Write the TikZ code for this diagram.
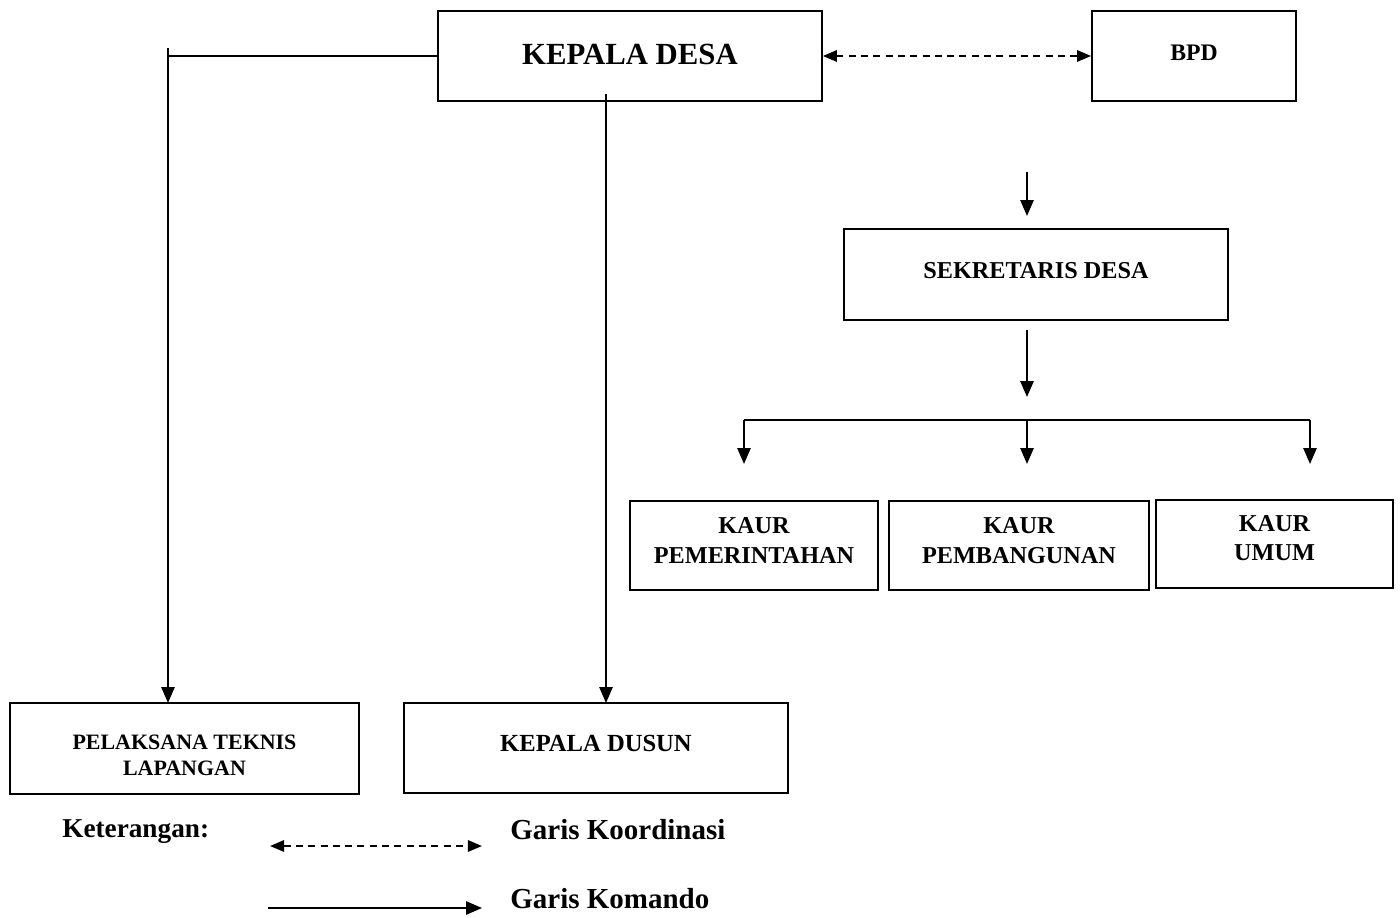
\documentclass[tikz,border=0pt]{standalone}
\usepackage{fontspec}
\setmainfont{Liberation Serif}
\usetikzlibrary{arrows.meta}
\tikzset{
  box/.style={draw, line width=1pt, inner sep=0pt},
  boxtext/.style={align=center, inner sep=0pt},
  cmd/.style={line width=1pt, -{Triangle[length=9pt,width=7.5pt]}},
  plain/.style={line width=1pt},
  coord/.style={line width=1pt, dashed, dash pattern=on 4pt off 3pt, {Triangle[length=8pt,width=6.5pt]}-{Triangle[length=8pt,width=6.5pt]}},
  lbl/.style={anchor=west, inner sep=0pt, font=\bfseries\fontsize{16.5pt}{19pt}\selectfont}
}
\begin{document}
\begin{tikzpicture}[x=0.02cm, y=-0.02cm]
\useasboundingbox (0,0) rectangle (1400,918);
% boxes
\node[box, minimum width=7.68cm, minimum height=1.8cm,
  label={[boxtext, yshift=0.6pt, font=\bfseries\fontsize{17.5pt}{20pt}\selectfont]center:KEPALA DESA}] (kd) at (630,56) {};
\node[box, minimum width=4.08cm, minimum height=1.8cm,
  label={[boxtext, yshift=1.7pt, font=\bfseries\fontsize{13.5pt}{16pt}\selectfont]center:BPD}] (bpd) at (1194,56) {};
\node[box, minimum width=7.68cm, minimum height=1.82cm,
  label={[boxtext, yshift=2.3pt, font=\bfseries\fontsize{13.8pt}{16pt}\selectfont]center:SEKRETARIS DESA}] (sek) at (1036,274.5) {};
\node[box, minimum width=4.96cm, minimum height=1.78cm,
  label={[boxtext, yshift=2.8pt, font=\bfseries\fontsize{13.8pt}{17pt}\selectfont]center:KAUR\\PEMERINTAHAN}] (k1) at (754,545.5) {};
\node[box, minimum width=5.2cm, minimum height=1.78cm,
  label={[boxtext, yshift=2.8pt, font=\bfseries\fontsize{13.8pt}{17pt}\selectfont]center:KAUR\\PEMBANGUNAN}] (k2) at (1019,545.5) {};
\node[box, minimum width=4.74cm, minimum height=1.76cm,
  label={[boxtext, yshift=3.4pt, font=\bfseries\fontsize{13.8pt}{16.5pt}\selectfont]center:KAUR\\UMUM}] (k3) at (1274.5,544) {};
\node[box, minimum width=6.98cm, minimum height=1.82cm,
  label={[boxtext, yshift=-4pt, font=\bfseries\fontsize{12.5pt}{14.8pt}\selectfont]center:PELAKSANA TEKNIS\\LAPANGAN}] (ptl) at (184.5,748.5) {};
\node[box, minimum width=7.68cm, minimum height=1.8cm,
  label={[boxtext, yshift=2.3pt, font=\bfseries\fontsize{14pt}{16pt}\selectfont]center:KEPALA DUSUN}] (kdus) at (596,748) {};
% coordinates
\coordinate (ltop) at (168,48);
\coordinate (lcorner) at (168,56);
\coordinate (ptlin) at (168,703);
\coordinate (kdsrc) at (606,94);
\coordinate (kdusin) at (606,703);
\coordinate (s1) at (1027,172);
\coordinate (s2) at (1027,216);
\coordinate (s3) at (1027,330);
\coordinate (s4) at (1027,397);
\coordinate (busL) at (744,420);
\coordinate (busM) at (1027,420);
\coordinate (busR) at (1310,420);
\coordinate (tL) at (744,464);
\coordinate (tM) at (1027,464);
\coordinate (tR) at (1310,464);
% connectors
\draw[coord] (kd.east) -- (bpd.west);
\draw[plain] (kd.west) -- (lcorner);
\draw[cmd] (ltop) -- (ptlin);
\draw[cmd] (kdsrc) -- (kdusin);
\draw[cmd] (s1) -- (s2);
\draw[cmd] (s3) -- (s4);
\draw[plain] (busL) -- (busR);
\draw[cmd] (busL) -- (tL);
\draw[cmd] (busM) -- (tM);
\draw[cmd] (busR) -- (tR);
% legend
\node[lbl, font=\bfseries\fontsize{15.5pt}{18pt}\selectfont] (ket) at (62,832) {Keterangan:};
\coordinate (d1) at (270,846);
\coordinate (d2) at (482,846);
\coordinate (c1) at (268,908);
\coordinate (c2) at (482,908);
\draw[coord] (d1) -- (d2);
\draw[cmd] (c1) -- (c2);
\node[lbl] (gk) at (510,830) {Garis Koordinasi};
\node[lbl] (gm) at (510,899) {Garis Komando};
\end{tikzpicture}
\end{document}
